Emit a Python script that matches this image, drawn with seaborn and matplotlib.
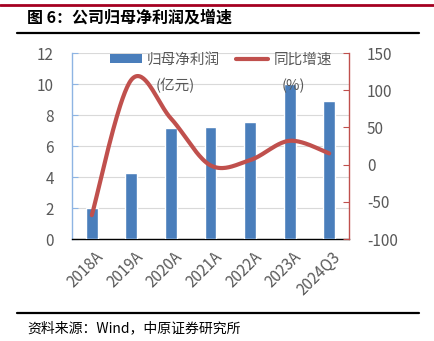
import numpy as np
import pandas as pd
import matplotlib
matplotlib.use("Agg")
import matplotlib.pyplot as plt
import matplotlib.transforms as mtransforms
import seaborn as sns
from matplotlib.lines import Line2D
from matplotlib.patches import Patch

categories = ["2018A", "2019A", "2020A", "2021A", "2022A", "2023A", "2024Q3"]
profit = [2.0, 4.25, 7.15, 7.22, 7.58, 10.02, 8.9]
growth = [-68, 114, 62, -1, 6, 32, 15]
left_ticks = [0, 2, 4, 6, 8, 10, 12]
right_ticks = [-100, -50, 0, 50, 100, 150]
legend_names = ["归母净利润", "同比增速"]
legend_units = ["(亿元)", "(%)"]

sns.set_theme(style="white")
plt.rcParams["font.family"] = ["Noto Sans CJK SC", "DejaVu Sans"]
plt.rcParams["axes.unicode_minus"] = False

GRAY = "#595959"
BLUE = "#4A7EBB"
RED = "#C0504D"

W, H = 435, 341
fig = plt.figure(figsize=(W / 100, H / 100), dpi=100)
ax = fig.add_axes([72 / W, 1 - 239 / H, (349 - 72) / W, (239 - 53) / H])

df = pd.DataFrame({"cat": categories, "profit": profit})
sns.barplot(data=df, x="cat", y="profit", color=BLUE, width=0.3, ax=ax,
            saturation=1, zorder=3)
ax.set_ylim(0, 12)
ax.set_yticks(left_ticks)
ax.set_xlim(-0.5, len(categories) - 0.5)
ax.set_xlabel("")
ax.set_ylabel("")
ax.yaxis.grid(True, color="#D9D9D9", lw=0.8, zorder=0)
ax.set_axisbelow(True)
ax.tick_params(axis="y", colors=GRAY, labelsize=11, length=4, direction="in",
               pad=13, width=0.8)
ax.tick_params(axis="y", which="major", color="#8EB4E3")
ax.tick_params(axis="x", colors=GRAY, labelsize=11, length=0, pad=7)
offset = mtransforms.ScaledTranslation(3 / 100, 0, fig.dpi_scale_trans)
for lab in ax.get_xticklabels():
    lab.set_rotation(45)
    lab.set_ha("right")
    lab.set_rotation_mode("anchor")
    lab.set_transform(lab.get_transform() + offset)
ax.spines["top"].set_visible(False)
ax.spines["left"].set_color("#8EB4E3")
ax.spines["left"].set_linewidth(1.0)
ax.spines["right"].set_visible(False)
ax.spines["bottom"].set_color("black")
ax.spines["bottom"].set_linewidth(1.0)

ax2 = ax.twinx()
# smoothed line (Bezier through the data points, like Excel's smoothed line)
xs = np.arange(len(growth), dtype=float)
ys = np.array(growth, dtype=float)
P = np.column_stack([xs, ys])
curve = []
n = len(P)
t = np.linspace(0, 1, 40)
for i in range(n - 1):
    p0 = P[max(i - 1, 0)]
    p1 = P[i]
    p2 = P[i + 1]
    p3 = P[min(i + 2, n - 1)]
    c1 = p1 + (p2 - p0) / 6
    c2 = p2 - (p3 - p1) / 6
    seg = ((1 - t)[:, None] ** 3 * p1 + 3 * ((1 - t) ** 2 * t)[:, None] * c1
           + 3 * ((1 - t) * t ** 2)[:, None] * c2 + (t ** 3)[:, None] * p2)
    curve.append(seg if i == 0 else seg[1:])
curve = np.vstack(curve)
sns.lineplot(x=curve[:, 0], y=curve[:, 1], ax=ax2, color=RED, lw=3,
             sort=False, estimator=None, zorder=4)
ax2.set_ylim(-100, 150)
ax2.set_yticks(right_ticks)
ax2.tick_params(axis="y", colors=GRAY, labelsize=11, length=4, direction="in",
                pad=13, width=0.8)
ax2.tick_params(axis="y", color=RED)
for s in ["top", "left", "bottom"]:
    ax2.spines[s].set_visible(False)
ax2.spines["right"].set_color(RED)
ax2.spines["right"].set_linewidth(1.0)
ax2.set_ylabel("")

handles = [Patch(facecolor=BLUE, edgecolor="none"),
           Line2D([0], [0], color=RED, lw=3)]
leg = ax2.legend(handles, legend_names, ncol=2, loc="center",
                 bbox_to_anchor=((221 - 72) / 277, (239 - 60) / 186),
                 frameon=False, fontsize=10.5, borderpad=0,
                 handlelength=2.2, handleheight=0.55, columnspacing=1.1,
                 handletextpad=0.35, labelcolor=GRAY)
fig.text(175 / W, 1 - 86 / H, legend_units[0], fontsize=10.5, color=GRAY,
         ha="center", va="center")
fig.text(293 / W, 1 - 86 / H, legend_units[1], fontsize=10.5, color=GRAY,
         ha="center", va="center")

# Decorations: title, rules, source
fig.add_artist(Line2D([0, 1], [1 - 5 / H] * 2, color="#A50021", lw=2.0,
                      transform=fig.transFigure))
fig.add_artist(Line2D([17 / W, 419 / W], [1 - 33 / H] * 2, color="black",
                      lw=1.6, transform=fig.transFigure))
fig.add_artist(Line2D([17 / W, 419 / W], [1 - 313 / H] * 2, color="black",
                      lw=1.6, transform=fig.transFigure))
fig.text(27 / W, 1 - 18 / H, "图 6：公司归母净利润及增速", fontsize=11.5,
         fontweight="bold", color="black", va="center", ha="left")
fig.text(27 / W, 1 - 328 / H, "资料来源：Wind，中原证券研究所", fontsize=10,
         color="black", va="center", ha="left")

fig.savefig("out.png", dpi=100)
